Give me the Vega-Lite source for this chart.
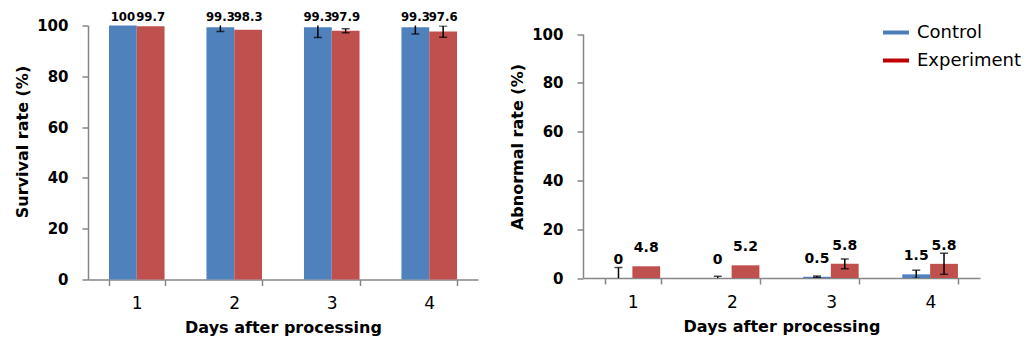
{
  "$schema": "https://vega.github.io/schema/vega-lite/v6.json",
  "padding": {"left": 14, "top": 10.5, "right": 0, "bottom": 0},
  "background": "white",
  "config": {
    "view": {"stroke": null},
    "font": "DejaVu Sans",
    "axis": {
      "grid": false,
      "domainColor": "#868686",
      "domainWidth": 1.5,
      "tickColor": "#868686",
      "tickWidth": 1.5,
      "tickSize": 6,
      "labelColor": "black",
      "titleColor": "black",
      "labelFont": "DejaVu Sans",
      "titleFont": "DejaVu Sans",
      "titleFontSize": 16,
      "titleFontWeight": "bold"
    },
    "axisX": {"labelFontSize": 17, "labelFontWeight": "normal", "labelPadding": 10, "titlePadding": 8, "labelAngle": 0, "tickBand": "extent"},
    "axisY": {"labelFontSize": 15, "labelFontWeight": "bold", "labelPadding": 14, "titlePadding": 6}
  },
  "datasets": {
    "survival": [
      {"day": "1", "group": "Control", "value": 100, "lo": 100, "hi": 100},
      {"day": "1", "group": "Experiment", "value": 99.7, "lo": 99.7, "hi": 99.7},
      {"day": "2", "group": "Control", "value": 99.3, "lo": 97.6, "hi": 101.0},
      {"day": "2", "group": "Experiment", "value": 98.3, "lo": 98.3, "hi": 98.3},
      {"day": "3", "group": "Control", "value": 99.3, "lo": 95.3, "hi": 103.3},
      {"day": "3", "group": "Experiment", "value": 97.9, "lo": 97.1, "hi": 98.7},
      {"day": "4", "group": "Control", "value": 99.3, "lo": 96.7, "hi": 101.9},
      {"day": "4", "group": "Experiment", "value": 97.6, "lo": 95.4, "hi": 99.8}
    ],
    "abnormal": [
      {"day": "1", "group": "Control", "value": 0, "lo": -4.3, "hi": 4.3},
      {"day": "1", "group": "Experiment", "value": 4.8, "lo": 4.8, "hi": 4.8},
      {"day": "2", "group": "Control", "value": 0, "lo": -0.7, "hi": 0.7},
      {"day": "2", "group": "Experiment", "value": 5.2, "lo": 5.2, "hi": 5.2},
      {"day": "3", "group": "Control", "value": 0.5, "lo": 0.2, "hi": 0.8},
      {"day": "3", "group": "Experiment", "value": 5.8, "lo": 3.8, "hi": 7.8},
      {"day": "4", "group": "Control", "value": 1.5, "lo": -0.2, "hi": 3.2},
      {"day": "4", "group": "Experiment", "value": 5.8, "lo": 1.5, "hi": 10.1}
    ]
  },
  "bounds": "flush",
  "spacing": 105,
  "resolve": {"scale": {"color": "shared"}, "legend": {"color": "independent"}},
  "hconcat": [
    {
      "width": 390,
      "height": 254,
      "data": {"name": "survival"},
      "encoding": {
        "x": {"field": "day", "type": "nominal", "scale": {"paddingInner": 0.43, "paddingOuter": 0.215}, "axis": {"title": "Days after processing"}},
        "xOffset": {"field": "group", "type": "nominal", "scale": {"domain": ["Control", "Experiment"], "paddingInner": 0, "paddingOuter": 0}}
      },
      "layer": [
        {
          "mark": {"type": "bar"},
          "encoding": {
            "y": {"field": "value", "type": "quantitative", "scale": {"domain": [0, 100], "nice": false}, "axis": {"values": [0, 20, 40, 60, 80, 100], "title": "Survival rate (%)", "titleY": 116}},
            "color": {"field": "group", "type": "nominal", "scale": {"domain": ["Control", "Experiment"], "range": ["#4F81BD", "#C0504D"]}, "legend": null}
          }
        },
        {
          "transform": [{"filter": "datum.hi > datum.lo"}],
          "mark": {"type": "rule", "clip": true, "color": "black", "strokeWidth": 1.5},
          "encoding": {"y": {"field": "lo", "type": "quantitative", "title": "Survival rate (%)"}, "y2": {"field": "hi"}}
        },
        {
          "transform": [{"filter": "datum.hi > datum.lo"}],
          "mark": {"type": "tick", "clip": true, "color": "black", "thickness": 1.5, "size": 8},
          "encoding": {"y": {"field": "lo", "type": "quantitative", "title": "Survival rate (%)"}}
        },
        {
          "transform": [{"filter": "datum.hi > datum.lo"}],
          "mark": {"type": "tick", "clip": true, "color": "black", "thickness": 1.5, "size": 8},
          "encoding": {"y": {"field": "hi", "type": "quantitative", "title": "Survival rate (%)"}}
        },
        {
          "mark": {"type": "text", "dy": -9, "fontSize": 13, "font": "DejaVu Sans Condensed", "fontWeight": "bold", "baseline": "middle", "color": "black"},
          "encoding": {"y": {"datum": 100, "type": "quantitative", "title": "Survival rate (%)"}, "text": {"field": "value", "type": "quantitative"}}
        }
      ]
    },
    {
      "width": 397,
      "height": 252.5,
      "data": {"name": "abnormal"},
      "encoding": {
        "x": {"field": "day", "type": "nominal", "scale": {"paddingInner": 0.435, "paddingOuter": 0.2175}, "axis": {"title": "Days after processing"}},
        "xOffset": {"field": "group", "type": "nominal", "scale": {"domain": ["Control", "Experiment"], "paddingInner": 0, "paddingOuter": 0}}
      },
      "layer": [
        {
          "mark": {"type": "bar"},
          "encoding": {
            "y": {"field": "value", "type": "quantitative", "scale": {"domain": [0, 100], "nice": false, "range": [252.5, 8.5]}, "axis": {"values": [0, 20, 40, 60, 80, 100], "title": "Abnormal rate (%)", "titleY": 121}},
            "color": {
              "field": "group", "type": "nominal",
              "scale": {"domain": ["Control", "Experiment"], "range": ["#4F81BD", "#C0504D"]},
              "legend": {
                "orient": "none", "legendX": 298, "legendY": -8, "title": null,
                "symbolType": "stroke", "symbolSize": 676, "symbolStrokeWidth": 4,
                "labelFontSize": 18, "labelFont": "DejaVu Sans", "labelColor": "black", "labelOffset": 6, "rowPadding": 4,
                "encode": {"symbols": {"update": {"stroke": {"signal": "datum.value === 'Experiment' ? '#C00000' : '#4A7EBB'"}}}}
              }
            }
          }
        },
        {
          "transform": [{"filter": "datum.hi > datum.lo"}],
          "mark": {"type": "rule", "clip": true, "color": "black", "strokeWidth": 1.5},
          "encoding": {"y": {"field": "lo", "type": "quantitative", "title": "Abnormal rate (%)"}, "y2": {"field": "hi"}}
        },
        {
          "transform": [{"filter": "datum.hi > datum.lo"}],
          "mark": {"type": "tick", "clip": true, "color": "black", "thickness": 1.5, "size": 8},
          "encoding": {"y": {"field": "lo", "type": "quantitative", "title": "Abnormal rate (%)"}}
        },
        {
          "transform": [{"filter": "datum.hi > datum.lo"}],
          "mark": {"type": "tick", "clip": true, "color": "black", "thickness": 1.5, "size": 8},
          "encoding": {"y": {"field": "hi", "type": "quantitative", "title": "Abnormal rate (%)"}}
        },
        {
          "mark": {"type": "text", "dy": -18, "fontSize": 14, "fontWeight": "bold", "baseline": "middle", "color": "black"},
          "encoding": {"y": {"field": "value", "type": "quantitative", "title": "Abnormal rate (%)"}, "text": {"field": "value", "type": "quantitative"}}
        }
      ]
    }
  ]
}
